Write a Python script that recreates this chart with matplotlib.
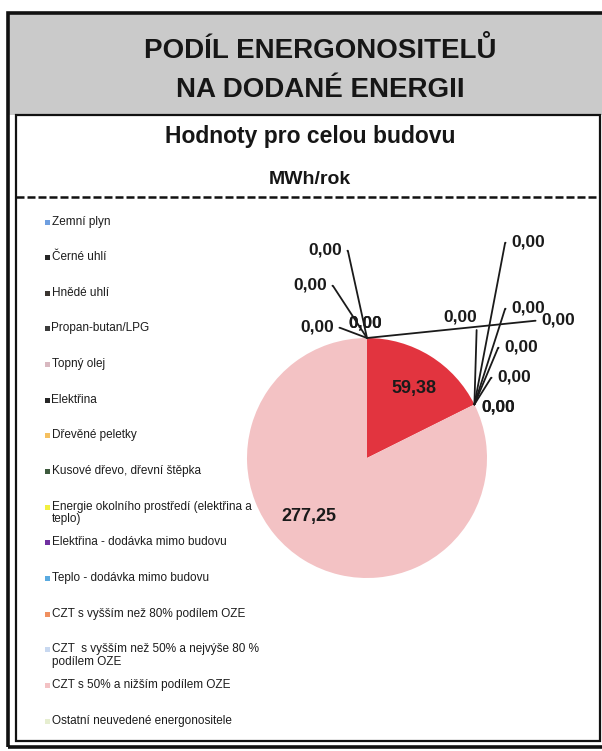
import matplotlib
matplotlib.use("Agg")
import matplotlib.pyplot as plt
from matplotlib.patches import Rectangle
from matplotlib.lines import Line2D
import numpy as np

# ---- data ----
categories = [
    "Zemní plyn",
    "Černé uhlí",
    "Hnědé uhlí",
    "Propan-butan/LPG",
    "Topný olej",
    "Elektřina",
    "Dřevěné peletky",
    "Kusové dřevo, dřevní štěpka",
    "Energie okolního prostředí (elektřina a\nteplo)",
    "Elektřina - dodávka mimo budovu",
    "Teplo - dodávka mimo budovu",
    "CZT s vyšším než 80% podílem OZE",
    "CZT  s vyšším než 50% a nejvýše 80 %\npodílem OZE",
    "CZT s 50% a nižším podílem OZE",
    "Ostatní neuvedené energonositele",
]
values = [0, 0, 0, 0, 0, 59.38, 0, 0, 0, 0, 0, 0, 0, 277.25, 0]

title_lines = ["PODÍL ENERGONOSITELŮ", "NA DODANÉ ENERGII"]
subtitle = "Hodnoty pro celou budovu"
unit = "MWh/rok"

# ---- style ----
pie_colors = ["#6f9fe0", "#262626", "#3a3530", "#3c3c3c", "#d8b8c0", "#e2343f",
              "#f5c060", "#3d5a3d", "#f2f040", "#7030a0", "#5aaae0", "#f09060",
              "#c8d8f0", "#f3c2c4", "#e6eed0"]
legend_colors = ["#6f9fe0", "#262626", "#3a3530", "#3c3c3c", "#d8b8c0", "#262626",
                 "#f5c060", "#3d5a3d", "#f2f040", "#7030a0", "#5aaae0", "#f09060",
                 "#c8d8f0", "#f3c2c4", "#e6eed0"]

W, H = 602, 751
fig = plt.figure(figsize=(W / 100, H / 100), dpi=100)
fig.patch.set_facecolor("white")
plt.rcParams["font.family"] = ["Liberation Sans", "DejaVu Sans"]
TXT = "#161616"


def fx(x):
    return x / W


def fy(y):
    return 1 - y / H


# header gray area
fig.add_artist(Rectangle((fx(8), fy(115)), fx(610) - fx(8), fy(13) - fy(115),
                         transform=fig.transFigure, facecolor="#cacaca",
                         edgecolor="none", zorder=0))
# outer frame
fig.add_artist(Rectangle((fx(8), fy(747)), fx(612) - fx(8), fy(13) - fy(747),
                         transform=fig.transFigure, facecolor="none",
                         edgecolor="#111111", lw=2.6, zorder=5))
# inner box
fig.add_artist(Rectangle((fx(15.5), fy(741)), fx(599.5) - fx(15.5), fy(115) - fy(741),
                         transform=fig.transFigure, facecolor="white",
                         edgecolor="#111111", lw=1.6, zorder=1))
# dashed separator
fig.add_artist(Line2D([fx(16), fx(599)], [fy(197), fy(197)], transform=fig.transFigure,
                      color="#111111", lw=1.8, linestyle=(0, (3.2, 1.2)), zorder=3))

# titles
fig.text(fx(320), fy(51), title_lines[0], ha="center", va="center", fontsize=20,
         fontweight="bold", color=TXT, zorder=6)
fig.text(fx(320), fy(90), title_lines[1], ha="center", va="center", fontsize=20,
         fontweight="bold", color=TXT, zorder=6)
fig.text(fx(310), fy(137), subtitle, ha="center", va="center", fontsize=16.5,
         fontweight="bold", color=TXT, zorder=6)
fig.text(fx(310), fy(179), unit, ha="center", va="center", fontsize=14,
         fontweight="bold", color=TXT, zorder=6)

# legend (manual)
y0, dy = 222, 35.65
for i, (name, col) in enumerate(zip(categories, legend_colors)):
    y = y0 + i * dy
    fig.add_artist(Rectangle((fx(44.5), fy(y + 2.5)), fx(5), 5 / H,
                             transform=fig.transFigure, facecolor=col,
                             edgecolor="none", zorder=6))
    fig.text(fx(51.5), fy(y - 6.5), name, ha="left", va="top", fontsize=8.5,
             color="#1c1c1c", linespacing=1.08, zorder=6)

# pie
cx, cy, r = 367, 458, 120
ax = fig.add_axes([fx(cx - r), fy(cy + r), 2 * r / W, 2 * r / H])
ax.set_zorder(4)
wedges, _ = ax.pie(values, colors=pie_colors, startangle=90, counterclock=False,
                   radius=1.0, wedgeprops=dict(linewidth=0))
ax.set_xlim(-1, 1)
ax.set_ylim(-1, 1)
ax.set_aspect("equal", adjustable="box")
ax.axis("off")


def fmt(v):
    return f"{v:.2f}".replace(".", ",")


LFS = 12.5
# label positions (figure px) for each slice; None = inside wedge
label_pos = [
    (325, 250, "r"), (310, 285, "r"), (317, 327, "r"), (365, 323, None),
    (558, 320, "l"),
    None,
    (460, 317, "v"), (528, 242, "l"), (528, 308, "l"), (521, 347, "l"),
    (514, 377, "l"), (498, 407, None), (498, 407, None),
    None,
    (365, 323, None),
]
inside_pos = {5: (414, 388), 13: (309, 517)}

for i, (w, v) in enumerate(zip(wedges, values)):
    if i in inside_pos:
        tx, ty = inside_pos[i]
        fig.text(fx(tx), fy(ty), fmt(v), ha="center", va="center", fontsize=13,
                 fontweight="bold", color="#1a1a1a", zorder=8)
        continue
    th = np.deg2rad(w.theta1)
    ax_pt = (np.cos(th) * w.r, np.sin(th) * w.r)
    tx, ty, side = label_pos[i]
    if side is None:
        fig.text(fx(tx), fy(ty), fmt(v), ha="center", va="center", fontsize=LFS,
                 fontweight="bold", color="#1a1a1a", zorder=8)
        continue
    if side == "r":
        ap = dict(relpos=(1.0, 0.45), connectionstyle="arc,angleA=0,armA=6,angleB=0,armB=0,rad=0")
    elif side == "l":
        ap = dict(relpos=(0.0, 0.45), connectionstyle="arc,angleA=180,armA=6,angleB=0,armB=0,rad=0")
    else:
        ap = dict(relpos=(1.0, 0.2))
    ax.annotate(fmt(v), xy=ax_pt, xycoords="data",
                xytext=(fx(tx), fy(ty)), textcoords="figure fraction",
                ha="center", va="center", fontsize=LFS, fontweight="bold",
                color="#1a1a1a", annotation_clip=False, zorder=8,
                arrowprops=dict(arrowstyle="-", color="#1a1a1a", lw=1.3,
                                shrinkA=2, shrinkB=0, **ap))

fig.savefig("out.png", dpi=100, facecolor="white")
